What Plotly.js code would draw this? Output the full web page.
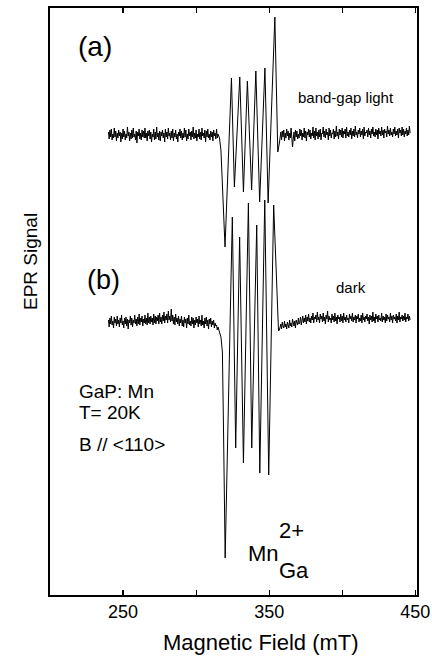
<!DOCTYPE html>
<html>
<head>
<meta charset="utf-8">
<script src="https://cdn.plot.ly/plotly-3.0.1.min.js"></script>
<style>
html,body{margin:0;padding:0;background:#fff;}
#chart{width:432px;height:668px;}
</style>
</head>
<body>
<div id="chart"></div>
<script>
// ---- Data (magnetic field in mT, EPR signal in arbitrary units relative to each trace's baseline) ----
const fieldLeft = [
  240,240.5,241,241.5,242,242.5,243,243.5,244,244.5,
  245,245.5,246,246.5,247,247.5,248,248.5,249,249.5,
  250,250.5,251,251.5,252,252.5,253,253.5,254,254.5,
  255,255.5,256,256.5,257,257.5,258,258.5,259,259.5,
  260,260.5,261,261.5,262,262.5,263,263.5,264,264.5,
  265,265.5,266,266.5,267,267.5,268,268.5,269,269.5,
  270,270.5,271,271.5,272,272.5,273,273.5,274,274.5,
  275,275.5,276,276.5,277,277.5,278,278.5,279,279.5,
  280,280.5,281,281.5,282,282.5,283,283.5,284,284.5,
  285,285.5,286,286.5,287,287.5,288,288.5,289,289.5,
  290,290.5,291,291.5,292,292.5,293,293.5,294,294.5,
  295,295.5,296,296.5,297,297.5,298,298.5,299,299.5,
  300,300.5,301,301.5,302,302.5,303,303.5,304,304.5,
  305,305.5,306,306.5,307,307.5,308,308.5,309,309.5,
  310,310.5,311,311.5,312,312.5,313,313.5,314,314.5,
  315,315.5];
const fieldRight = [
  357,357.5,358,358.5,359,359.5,360,360.5,361,361.5,
  362,362.5,363,363.5,364,364.5,365,365.5,366,366.5,
  367,367.5,368,368.5,369,369.5,370,370.5,371,371.5,
  372,372.5,373,373.5,374,374.5,375,375.5,376,376.5,
  377,377.5,378,378.5,379,379.5,380,380.5,381,381.5,
  382,382.5,383,383.5,384,384.5,385,385.5,386,386.5,
  387,387.5,388,388.5,389,389.5,390,390.5,391,391.5,
  392,392.5,393,393.5,394,394.5,395,395.5,396,396.5,
  397,397.5,398,398.5,399,399.5,400,400.5,401,401.5,
  402,402.5,403,403.5,404,404.5,405,405.5,406,406.5,
  407,407.5,408,408.5,409,409.5,410,410.5,411,411.5,
  412,412.5,413,413.5,414,414.5,415,415.5,416,416.5,
  417,417.5,418,418.5,419,419.5,420,420.5,421,421.5,
  422,422.5,423,423.5,424,424.5,425,425.5,426,426.5,
  427,427.5,428,428.5,429,429.5,430,430.5,431,431.5,
  432,432.5,433,433.5,434,434.5,435,435.5,436,436.5,
  437,437.5,438,438.5,439,439.5,440,440.5,441,441.5,
  442,442.5,443,443.5,444,444.5,445,445.5,446,446.5];

// (a) band-gap light
const lightLeft = [
  3,-4,5,-2,6,-5,1,-3,7,-2,
  4,-6,2,-3,5,-1,3,-7,2,-4,
  6,-2,4,-5,1,-3,8,-1,3,-6,
  2,-4,5,-3,7,-2,1,-5,4,-8,
  3,-1,6,-4,2,-5,5,-2,4,-3,
  7,-3,2,-6,4,-1,5,-4,3,-7,
  1,-2,6,-5,3,-4,8,-2,2,-5,
  4,-6,3,-1,5,-3,2,-7,6,-2,
  3,-4,7,-1,2,-5,4,-3,6,-6,
  2,-2,5,-4,1,-7,3,-1,6,-3,
  4,-5,2,-3,7,-2,5,-6,1,-4,
  6,-1,3,-5,4,-2,8,-4,2,-3,
  5,-6,1,-2,6,-4,3,-5,7,-1,
  2,-3,5,-7,4,-2,6,-3,1,-5,
  4,-2,3,-6,5,-1,2,-4,6,-3,
  1,-2];
const lightCenterField = [316,317,317.6,318.5,319.3,319.8,324.2,326.2,329.9,332.4,335.1,338.0,340.9,343.5,347.1,349.3,353.9,355.9];
const lightCenter = [-3,-15,-35,-62,-95,-112,57,-52,58,-57,54,-55,64,-67,67,-68,118,-17];
const lightRight = [
  -8,-4,3,-5,4,-2,5,-6,2,-3,
  6,-1,4,-5,2,-3,7,-2,-12,-4,
  3,-6,5,-2,4,-4,1,-3,6,-1,
  5,-5,2,-2,7,-3,4,-6,3,0,
  6,-2,5,-4,2,-1,8,-3,4,-5,
  7,-1,3,-4,5,-2,6,-5,2,1,
  8,-2,4,-3,6,0,3,-5,7,-1,
  5,-3,2,1,6,-4,4,-2,9,-1,
  3,-4,6,0,5,-2,7,-3,4,1,
  6,-3,8,-1,3,-2,5,0,7,-4,
  4,-1,6,-2,9,0,3,-3,5,1,
  7,-2,4,0,6,-4,8,-1,3,2,
  5,-2,7,0,4,-3,6,1,8,-1,
  3,-2,6,0,5,-4,7,1,4,-1,
  8,0,5,-3,6,2,4,-2,9,1,
  5,-1,7,0,3,-2,6,1,8,-1,
  4,0,6,-3,7,2,5,-1,8,0,
  6,-2,4,1,7,-1,5,0,9,2];

// (b) dark
const darkLeft = [
  2,-5,4,-2,6,-3,1,-6,5,-1,
  3,-4,6,-2,2,-5,4,-1,7,-3,
  1,-6,4,-2,5,-4,3,-7,2,-1,
  6,-3,4,-5,2,-1,7,-2,3,-4,
  5,-2,8,-3,4,0,6,-4,3,-1,
  7,-2,4,-3,9,-1,5,-2,6,0,
  4,-3,8,-1,6,-2,5,1,7,-2,
  9,0,5,-2,7,1,10,-1,6,2,
  8,-1,11,2,6,0,13,1,7,-2,
  5,-3,8,0,4,-2,6,-4,3,-1,
  6,-4,2,-5,5,-1,3,-6,4,-2,
  7,-3,1,-4,5,-2,4,-6,2,-3,
  5,-1,3,-5,6,-2,2,-4,7,-3,
  1,-6,4,-2,5,-4,2,-7,3,-2,
  4,-5,1,-3,2,-6,-1,-4,-3,-8,
  -5,-9];
const darkCenterField = [316,317,318,318.7,319.9,324.8,327.1,329.8,332.4,335.8,338.1,341.5,343.6,347.0,349.7,353.1,355.8,356.4];
const darkCenter = [-10,-15,-30,-100,-236,105,-126,85,-141,119,-126,97,-151,122,-153,117,-2,-9];
const darkRight = [
  -8,-5,-2,-7,0,-4,-6,1,-5,-2,
  -7,0,-3,-6,2,-4,-1,-5,3,-2,
  -4,1,-6,2,-1,-3,4,-2,0,5,
  -3,2,6,-1,4,0,7,-2,5,1,
  8,0,4,-1,6,2,9,-1,5,3,
  7,0,10,2,5,-1,8,3,6,0,
  9,1,5,-2,7,3,11,0,6,2,
  4,-1,8,2,6,0,9,1,5,-2,
  7,3,5,0,8,1,6,-1,9,2,
  5,0,7,2,4,-1,8,3,6,1,
  9,0,5,2,7,-1,6,3,8,0,
  4,1,7,-1,9,2,5,0,6,3,
  8,1,5,-2,7,2,6,0,10,1,
  5,-1,8,3,6,0,7,2,4,1,
  9,0,6,2,5,-1,8,1,7,3,
  5,0,9,2,6,-1,7,3,5,1,
  8,-1,6,2,10,0,5,3,7,1,
  6,2,9,0,5,3,8,1,6,2];

const tickValues = [250,300,350,400,450];
const tickLabels = ['250','','350','','450'];

// ---- Layout constants ----
const W = 432, H = 668;
const M = {l:50, r:15, t:8, b:73};
const lightOffset = 460, darkOffset = 273;
const FONT = 'Liberation Sans, Arial, Helvetica, sans-serif';
const plotW = W - M.l - M.r, plotH = H - M.t - M.b;
const px = x => (x - M.l) / plotW;
const py = y => (H - M.b - y) / plotH;

function build(left, cf, c, right, off) {
  return {
    x: fieldLeft.concat(cf, fieldRight),
    y: left.concat(c, right).map(v => v + off)
  };
}
const light = build(lightLeft, lightCenterField, lightCenter, lightRight, lightOffset);
const dark = build(darkLeft, darkCenterField, darkCenter, darkRight, darkOffset);

const lineStyle = {color:'#000', width:1};
const traces = [
  {type:'scatter', mode:'lines', name:'band-gap light', x:light.x, y:light.y, line:lineStyle, hoverinfo:'skip'},
  {type:'scatter', mode:'lines', name:'dark', x:dark.x, y:dark.y, line:lineStyle, hoverinfo:'skip'}
];

function ann(text, x, y, size, opts) {
  return Object.assign({text:text, xref:'paper', yref:'paper', x:px(x), y:py(y),
    xanchor:'center', yanchor:'middle', showarrow:false,
    font:{family:FONT, size:size, color:'#000'}}, opts || {});
}

const layout = {
  width:W, height:H, margin:M, showlegend:false,
  paper_bgcolor:'#fff', plot_bgcolor:'#fff',
  font:{family:FONT, color:'#000'},
  xaxis:{range:[200,451.2], tickvals:tickValues, ticktext:tickLabels,
    ticks:'inside', ticklen:5, tickwidth:1.2, tickcolor:'#000',
    showline:true, linecolor:'#000', linewidth:1.6, mirror:'ticks',
    showgrid:false, zeroline:false, fixedrange:true,
    tickfont:{family:FONT, size:18, color:'#000'}},
  yaxis:{range:[0,587], showticklabels:false, ticks:'',
    showline:true, linecolor:'#000', linewidth:1.6, mirror:true,
    showgrid:false, zeroline:false, fixedrange:true},
  annotations:[
    ann('(a)', 95, 46, 28),
    ann('(b)', 103, 280, 27),
    ann('band-gap light', 346, 97, 15),
    ann('dark', 351, 287, 15),
    ann('GaP: Mn', 77, 391.5, 19, {xanchor:'left'}),
    ann('T= 20K', 77, 412.5, 19, {xanchor:'left'}),
    ann('B // &lt;110&gt;', 77, 444.5, 19, {xanchor:'left'}),
    ann('Mn', 263, 553, 22),
    ann('2+', 291, 530, 22),
    ann('Ga', 294, 570, 22),
    ann('Magnetic Field (mT)', 261, 642, 22),
    ann('EPR Signal', 30, 262, 19, {textangle:-90})
  ]
};

Plotly.newPlot('chart', traces, layout, {displayModeBar:false, staticPlot:true});
</script>
</body>
</html>
